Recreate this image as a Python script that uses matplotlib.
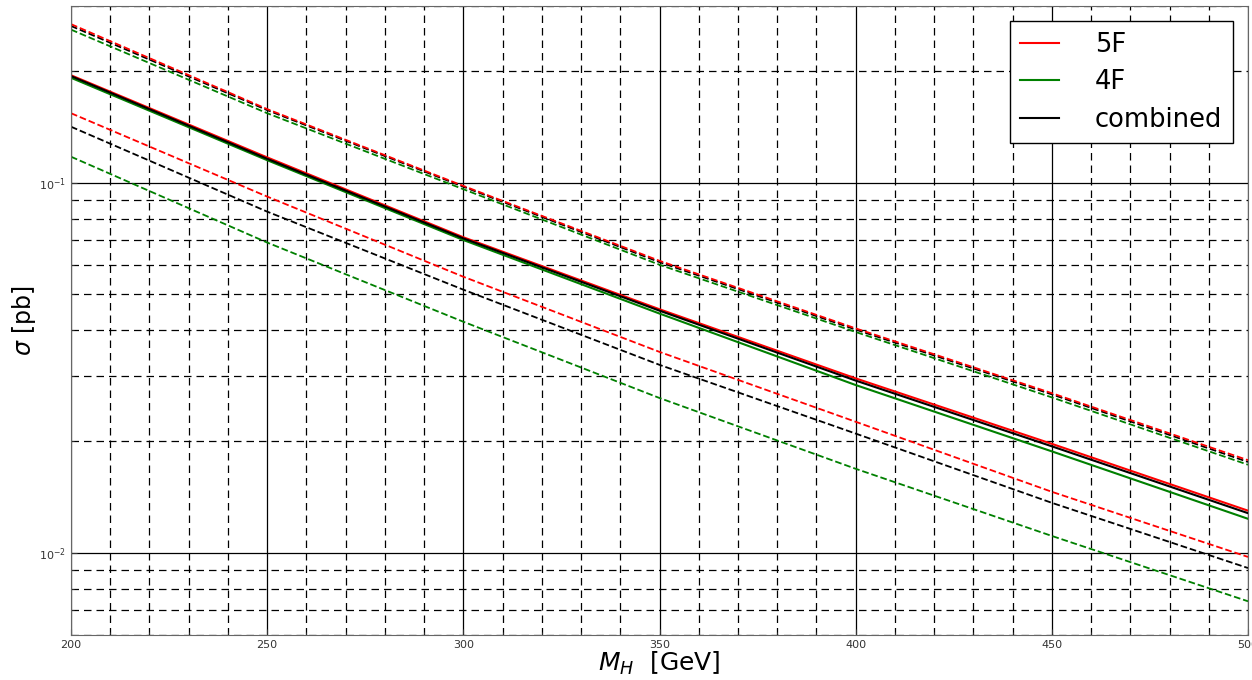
import numpy as np
import matplotlib.pyplot as plt
from matplotlib.ticker import MultipleLocator, LogLocator, LogFormatterMathtext

# masses [GeV]
mh = [200, 250, 300, 350, 400, 450, 500]

# central values (solid)
sig_5f = [0.195, 0.117, 0.0712, 0.0455, 0.0296, 0.0197, 0.0130]
sig_4f = [0.192, 0.115, 0.0700, 0.0443, 0.0284, 0.0188, 0.01236]
sig_comb = [0.194, 0.116, 0.0707, 0.0451, 0.0292, 0.0194, 0.0128]

# upper band (dashed)
up_5f = [0.268, 0.158, 0.0980, 0.0615, 0.0404, 0.0270, 0.0178]
up_4f = [0.259, 0.154, 0.0960, 0.0600, 0.0395, 0.0263, 0.0173]
up_comb = [0.265, 0.157, 0.0975, 0.0610, 0.0401, 0.0268, 0.0176]

# lower band (dashed)
lo_5f = [0.154, 0.0917, 0.0557, 0.0349, 0.0226, 0.01462, 0.00975]
lo_4f = [0.1175, 0.0689, 0.0421, 0.0262, 0.01687, 0.01111, 0.0074]
lo_comb = [0.1416, 0.0835, 0.0514, 0.0322, 0.0210, 0.01365, 0.0091]

fig = plt.figure(figsize=(12.52, 6.8), dpi=100)
ax = fig.add_axes([71/1252, 45/680, 1177/1252, 629/680])

ax.plot(mh, sig_5f, color='r', lw=1.5, label='5F')
ax.plot(mh, sig_4f, color='g', lw=1.5, label='4F')
ax.plot(mh, sig_comb, color='k', lw=1.5, label='combined')

for ys, c in [(up_4f, 'g'), (up_comb, 'k'), (up_5f, 'r'),
              (lo_5f, 'r'), (lo_4f, 'g'), (lo_comb, 'k')]:
    ax.plot(mh, ys, color=c, lw=1.3, ls='--')

ax.set_yscale('log')
ax.set_xlim(200, 500)
ax.set_ylim(0.006, 0.3)

ax.xaxis.set_major_locator(MultipleLocator(50))
ax.xaxis.set_minor_locator(MultipleLocator(10))
ax.yaxis.set_major_locator(LogLocator(base=10))
ax.yaxis.set_major_formatter(LogFormatterMathtext())
ax.yaxis.set_minor_locator(LogLocator(base=10, subs=np.arange(2, 10)))
ax.yaxis.set_minor_formatter(plt.NullFormatter())

ax.grid(which='major', color='k', ls='-', lw=0.9)
ax.grid(which='minor', color='k', ls='--', lw=0.9, dashes=(6, 4))
ax.tick_params(which='both', direction='in', labelsize=8, colors='#333333',
               length=4)
ax.tick_params(which='minor', length=2)
for s in ax.spines.values():
    s.set_color('#666666')

ax.set_xlabel(r'$M_H$  [GeV]', fontsize=18, labelpad=0)
ax.set_ylabel(r'$\sigma$ [pb]', fontsize=17)
ax.yaxis.set_label_coords(-0.028, 0.5)

leg = ax.legend(loc='upper right', fontsize=18.5, fancybox=False,
                handlelength=1.5, handletextpad=1.4, labelspacing=0.45,
                borderaxespad=0.6)
leg.get_frame().set_edgecolor('k')
leg.get_frame().set_alpha(1)

fig.savefig('out.png', dpi=100)
